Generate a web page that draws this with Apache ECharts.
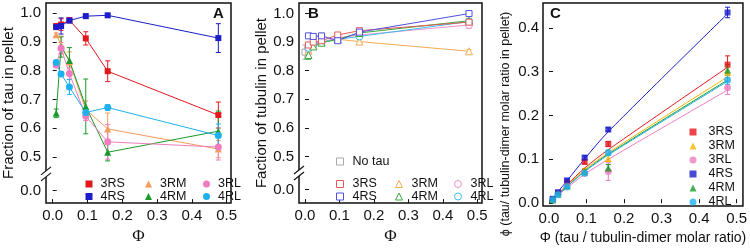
<!DOCTYPE html>
<html><head><meta charset="utf-8">
<script src="https://cdn.jsdelivr.net/npm/echarts@6/dist/echarts.min.js"></script>
<style>html,body{margin:0;padding:0;background:#fff}#c{width:750px;height:250px}</style>
</head><body><div id="c"></div><script>
// ---------- data ----------
const phi = [0.01, 0.024, 0.048, 0.095, 0.158, 0.476];
const xTicks = [0, 0.1, 0.2, 0.3, 0.4, 0.5];
const yTicksAB = ['0.0', '0.5', '0.6', '0.7', '0.8', '0.9', '1.0'];
const yTicksC = [0, 0.1, 0.2, 0.3, 0.4];

// Panel A: fraction of tau in pellet
const A_3RS = [0.955, 0.960, 0.975, 0.912, 0.798, 0.646];
const A_3RS_err = [0.006, 0.020, 0.008, 0.023, 0.036, 0.045];
const A_4RS = [0.951, 0.955, 0.974, 0.989, 0.992, 0.913];
const A_4RS_err = [0.006, 0.028, 0.008, 0.008, 0.005, 0.050];
const A_3RM = [0.925, 0.890, 0.830, 0.665, 0.598, 0.528];
const A_3RM_err = [0.006, 0.030, 0.035, 0.030, 0.055, 0.030];
const A_4RM = [0.652, 0.882, 0.835, 0.676, 0.517, 0.590];
const A_4RM_err = [0.015, 0.035, 0.045, 0.095, 0.030, 0.070];
const A_3RL = [0.820, 0.878, 0.790, 0.642, 0.553, 0.535];
const A_3RL_err = [0.010, 0.020, 0.020, 0.015, 0.060, 0.045];
const A_4RL = [0.828, 0.788, 0.743, 0.655, 0.672, 0.575];
const A_4RL_err = [0.008, 0.008, 0.026, 0.010, 0.010, 0.040];

// Panel B: fraction of tubulin in pellet
const B_noTau_x = [0.0];
const B_noTau = [0.865];
const B_noTau_err = [0.025];
const B_3RS = [0.890, 0.900, 0.905, 0.925, 0.940, 0.970];
const B_3RS_err = [0.008, 0.008, 0.006, 0.008, 0.008, 0.010];
const B_4RS = [0.922, 0.920, 0.922, 0.905, 0.935, 1.000];
const B_4RS_err = [0.006, 0.006, 0.006, 0.006, 0.006, 0.006];
const B_3RM = [0.870, 0.890, 0.900, 0.910, 0.902, 0.868];
const B_3RM_err = [0.010, 0.008, 0.006, 0.008, 0.006, 0.006];
const B_4RM = [0.855, 0.885, 0.898, 0.910, 0.932, 0.975];
const B_4RM_err = [0.015, 0.010, 0.008, 0.008, 0.008, 0.008];
const B_3RL = [0.875, 0.895, 0.900, 0.915, 0.925, 0.960];
const B_3RL_err = [0.010, 0.008, 0.006, 0.008, 0.008, 0.012];
const B_4RL = [0.880, 0.890, 0.900, 0.910, 0.920, 0.972];
const B_4RL_err = [0.010, 0.008, 0.006, 0.008, 0.008, 0.008];

// Panel C: tau/tubulin-dimer molar ratio in pellet
const C_3RS = [0.009, 0.023, 0.046, 0.094, 0.135, 0.316];
const C_3RS_err = [0.001, 0.002, 0.003, 0.004, 0.006, 0.020];
const C_3RM = [0.009, 0.021, 0.040, 0.075, 0.102, 0.298];
const C_3RM_err = [0.001, 0.002, 0.003, 0.004, 0.008, 0.012];
const C_3RL = [0.008, 0.022, 0.041, 0.068, 0.072, 0.263];
const C_3RL_err = [0.001, 0.002, 0.003, 0.004, 0.020, 0.015];
const C_4RS = [0.010, 0.025, 0.052, 0.104, 0.168, 0.435];
const C_4RS_err = [0.001, 0.002, 0.003, 0.004, 0.004, 0.012];
const C_4RM = [0.007, 0.021, 0.040, 0.073, 0.080, 0.304];
const C_4RM_err = [0.001, 0.002, 0.003, 0.004, 0.008, 0.012];
const C_4RL = [0.008, 0.019, 0.037, 0.068, 0.115, 0.281];
const C_4RL_err = [0.001, 0.002, 0.003, 0.004, 0.006, 0.010];
// fitted curves
const C_3RS_fit = [0.008, 0.021, 0.042, 0.080, 0.122, 0.310];
const C_3RM_fit = [0.008, 0.020, 0.040, 0.076, 0.115, 0.288];
const C_3RL_fit = [0.008, 0.018, 0.035, 0.066, 0.100, 0.258];
const C_4RS_fit = [0.009, 0.026, 0.051, 0.101, 0.163, 0.432];
const C_4RM_fit = [0.008, 0.019, 0.038, 0.073, 0.112, 0.281];
const C_4RL_fit = [0.008, 0.019, 0.038, 0.072, 0.110, 0.278];

// ---------- styling ----------
const FONT = 'Liberation Sans, Arial, sans-serif';
const col = {
  '3RS': '#e3171d', '4RS': '#1c1cc8', '3RM': '#f59b5b', '4RM': '#1a9a2a',
  '3RL': '#f07cc0', '4RL': '#1fb0ef'
};
const colB = {
  'No tau': '#a8a8a8', '3RS': '#e05a5a', '4RS': '#5050e0', '3RM': '#f5ac50',
  '4RM': '#3aaa3a', '3RL': '#f090cc', '4RL': '#40c0e8'
};
const colC = Object.assign({}, col, {'3RM': '#f4b400'});
const sym = {'3RS':'rect','4RS':'rect','3RM':'triangle','4RM':'triangle','3RL':'circle','4RL':'circle','No tau':'rect'};
const symSize = {rect: 6, triangle: 7, circle: 7};

const ZERO_AB = 0.384; // position of broken-axis "0.0" label

const chart = echarts.init(document.getElementById('c'), null, {renderer: 'canvas'});

const grids = [
  {left: 46, top: 3, width: 185, height: 206},
  {left: 299, top: 3, width: 183, height: 207},
  {left: 543, top: 3, width: 201, height: 207}
].map(g => Object.assign(g, {show: true, borderColor: '#111', borderWidth: 1.5, backgroundColor: 'transparent'}));

function xAxis(gi, min, max, name, gap) {
  return {
    type: 'value', gridIndex: gi, min, max,
    axisLine: {show: false}, splitLine: {show: false},
    axisTick: {show: true, inside: true, length: 4, lineStyle: {color: '#111', width: 1}, customValues: xTicks},
    axisLabel: {customValues: xTicks, formatter: v => v.toFixed(1), fontSize: 15, color: '#111', fontFamily: FONT, margin: 5},
    name, nameLocation: 'middle', nameGap: gap,
    nameTextStyle: {fontSize: gi === 2 ? 14 : 17, color: '#111', fontFamily: gi === 2 ? FONT : 'Liberation Serif, serif'}
  };
}
function yAxisAB(gi, min, max, name) {
  const vals = [ZERO_AB, 0.5, 0.6, 0.7, 0.8, 0.9, 1.0];
  return {
    type: 'value', gridIndex: gi, min, max,
    axisLine: {show: false}, splitLine: {show: false},
    axisTick: {show: true, inside: true, length: 4, lineStyle: {color: '#111', width: 1}, customValues: vals},
    axisLabel: {customValues: vals, formatter: v => yTicksAB[vals.findIndex(t => Math.abs(t - v) < 1e-6)],
      fontSize: 15, color: '#111', fontFamily: FONT, margin: 5},
    name, nameLocation: 'middle', nameGap: 29, nameRotate: 90,
    nameTextStyle: {fontSize: 15, color: '#111', fontFamily: FONT}
  };
}

const series = [];
function errBars(gi, name, xs, ys, es, color) {
  series.push({
    type: 'custom', name: name + ' err', xAxisIndex: gi, yAxisIndex: gi, z: 2,
    data: xs.map((x, i) => [x, ys[i], es[i]]),
    renderItem: (params, api) => {
      const x = api.value(0), y = api.value(1), e = api.value(2);
      const a = api.coord([x, y - e]), b = api.coord([x, y + e]);
      const w = 2.5;
      const st = {stroke: color, lineWidth: 1};
      return {type: 'group', children: [
        {type: 'line', shape: {x1: a[0], y1: a[1], x2: b[0], y2: b[1]}, style: st},
        {type: 'line', shape: {x1: a[0]-w, y1: a[1], x2: a[0]+w, y2: a[1]}, style: st},
        {type: 'line', shape: {x1: b[0]-w, y1: b[1], x2: b[0]+w, y2: b[1]}, style: st}
      ]};
    },
    silent: true, tooltip: {show: false}
  });
}
function lineSeries(gi, key, prefix, xs, ys, color, hollow) {
  const s = sym[key];
  series.push({
    type: 'line', name: prefix + ':' + key, xAxisIndex: gi, yAxisIndex: gi, z: 3,
    data: xs.map((x, i) => [x, ys[i]]),
    symbol: s, symbolSize: symSize[s], showSymbol: true,
    lineStyle: {color, width: 1},
    itemStyle: hollow ? {color: '#fff', borderColor: color, borderWidth: 1} : {color, borderWidth: 0},
    emphasis: {disabled: true}, animation: false
  });
}

// Panel A
const Akeys = ['3RS','4RS','3RM','4RM','3RL','4RL'];
const Adata = {'3RS':[A_3RS,A_3RS_err],'4RS':[A_4RS,A_4RS_err],'3RM':[A_3RM,A_3RM_err],
  '4RM':[A_4RM,A_4RM_err],'3RL':[A_3RL,A_3RL_err],'4RL':[A_4RL,A_4RL_err]};
Akeys.forEach(k => { errBars(0, 'A'+k, phi, Adata[k][0], Adata[k][1], col[k]); lineSeries(0, k, 'A', phi, Adata[k][0], col[k], false); });

// Panel B
const Bdata = {'3RS':[B_3RS,B_3RS_err],'4RS':[B_4RS,B_4RS_err],'3RM':[B_3RM,B_3RM_err],
  '4RM':[B_4RM,B_4RM_err],'3RL':[B_3RL,B_3RL_err],'4RL':[B_4RL,B_4RL_err]};
errBars(1, 'BNo tau', B_noTau_x, B_noTau, B_noTau_err, colB['No tau']);
lineSeries(1, 'No tau', 'B', B_noTau_x, B_noTau, colB['No tau'], true);
['3RM','3RL','4RL','4RM','3RS','4RS'].forEach(k => { errBars(1, 'B'+k, phi, Bdata[k][0], Bdata[k][1], colB[k]); lineSeries(1, k, 'B', phi, Bdata[k][0], colB[k], true); });

// Panel C
const Cdata = {'3RS':[C_3RS,C_3RS_err,C_3RS_fit],'3RM':[C_3RM,C_3RM_err,C_3RM_fit],'3RL':[C_3RL,C_3RL_err,C_3RL_fit],
  '4RS':[C_4RS,C_4RS_err,C_4RS_fit],'4RM':[C_4RM,C_4RM_err,C_4RM_fit],'4RL':[C_4RL,C_4RL_err,C_4RL_fit]};
const Ckeys = ['3RS','3RM','3RL','4RS','4RM','4RL'];
Ckeys.forEach(k => {
  series.push({type: 'line', name: 'Cfit' + k, xAxisIndex: 2, yAxisIndex: 2, z: 2, smooth: 0.3,
    data: phi.map((x, i) => [x, Cdata[k][2][i]]), showSymbol: false, symbol: 'none',
    lineStyle: {color: colC[k], width: 1}, emphasis: {disabled: true}, animation: false});
});
Ckeys.forEach(k => {
  errBars(2, 'C'+k, phi, Cdata[k][0], Cdata[k][1], colC[k]);
  const s = sym[k];
  series.push({type: 'scatter', name: 'C:' + k, xAxisIndex: 2, yAxisIndex: 2, z: 3,
    data: phi.map((x, i) => [x, Cdata[k][0][i]]), symbol: s, symbolSize: symSize[s],
    itemStyle: {color: colC[k]}, emphasis: {disabled: true}, animation: false});
});

// legends (one per item for exact placement)
function leg(name, cx, cy, color, hollow, pad) {
  const key = name.split(':')[1];
  const s = sym[key];
  return {
    show: true, left: cx - 3.5, top: cy - 6, orient: 'horizontal', padding: 0, itemGap: 0,
    itemWidth: 7, itemHeight: 7, selectedMode: false,
    data: [{name, icon: s, itemStyle: hollow ? {color: '#fff', borderColor: color, borderWidth: 1} : {color, borderWidth: 0}}],
    formatter: n => n.split(':')[1],
    textStyle: {fontSize: 12.5, color: '#111', fontFamily: FONT, lineHeight: 12, padding: [0, 0, 0, pad]}
  };
}
const legends = [];
const Acols = [89, 148.5, 206.5], Arows = [183.5, 196];
[['3RS','3RM','3RL'],['4RS','4RM','4RL']].forEach((row, r) => row.forEach((k, c) =>
  legends.push(leg('A:' + k, Acols[c], Arows[r], col[k], false, 3))));
const Bcols = [339.5, 398.5, 457.5], Brows = [183.5, 196];
legends.push(leg('B:No tau', Bcols[0], 161, colB['No tau'], true, 4));
[['3RS','3RM','3RL'],['4RS','4RM','4RL']].forEach((row, r) => row.forEach((k, c) =>
  legends.push(leg('B:' + k, Bcols[c], Brows[r], colB[k], true, 4))));
Ckeys.forEach((k, i) => legends.push(leg('C:' + k, 693, 131.5 + 14 * i, colC[k], false, 7)));

const option = {
  animation: false,
  backgroundColor: '#fff',
  textStyle: {fontFamily: FONT},
  grid: grids,
  xAxis: [
    xAxis(0, -0.0193, 0.5124, 'Φ', 22),
    xAxis(1, -0.0174, 0.5137, 'Φ', 22),
    xAxis(2, -0.016, 0.517, 'Φ (tau / tubulin-dimer molar ratio)', 22)
  ],
  yAxis: [
    yAxisAB(0, 0.3406, 1.0347, 'Fraction of tau in pellet'),
    yAxisAB(1, 0.3365, 1.037, 'Faction of tubulin in pellet'),
    {type: 'value', gridIndex: 2, min: -0.0067, max: 0.4566,
      axisLine: {show: false}, splitLine: {show: false},
      axisTick: {show: true, inside: true, length: 4, lineStyle: {color: '#111', width: 1}, customValues: yTicksC},
      axisLabel: {customValues: yTicksC, formatter: v => v.toFixed(1), fontSize: 15, color: '#111', fontFamily: FONT, margin: 4}}
  ],
  legend: legends,
  series,
  graphic: [
    {type: 'text', left: 213, top: 6, z: 100, style: {text: 'A', fontSize: 15, fontWeight: 'bold', fill: '#111', fontFamily: FONT}},
    {type: 'text', left: 308, top: 6, z: 100, style: {text: 'B', fontSize: 15, fontWeight: 'bold', fill: '#111', fontFamily: FONT}},
    {type: 'text', left: 550, top: 6, z: 100, style: {text: 'C', fontSize: 15, fontWeight: 'bold', fill: '#111', fontFamily: FONT}},
    {type: 'text', x: 506, y: 124, rotation: Math.PI / 2, z: 100,
      style: {text: 'ϕ (tau/ tubulin-dimer molar ratio in pellet)', fontSize: 12.5, fill: '#111', fontFamily: FONT, align: 'center', verticalAlign: 'middle'}}
  ]
};
chart.setOption(option);

// axis break marks "//" on panels A and B
const breaks = [];
[0, 1].forEach(gi => {
  const xmin = option.xAxis[gi].min;
  const p = chart.convertToPixel({xAxisIndex: gi, yAxisIndex: gi}, [xmin, 0.442]);
  const x = p[0], y = p[1];
  breaks.push({type: 'group', z: 100, children: [
    {type: 'polygon', z: 100, shape: {points: [[x-5, y+1], [x+5, y-7], [x+5, y-1], [x-5, y+7]]}, style: {fill: '#fff'}},
    {type: 'line', z: 101, shape: {x1: x-5, y1: y+1, x2: x+5, y2: y-7}, style: {stroke: '#111', lineWidth: 1.2}},
    {type: 'line', z: 101, shape: {x1: x-5, y1: y+7, x2: x+5, y2: y-1}, style: {stroke: '#111', lineWidth: 1.2}}
  ]});
});
chart.setOption({graphic: option.graphic.concat(breaks)});
</script></body></html>
